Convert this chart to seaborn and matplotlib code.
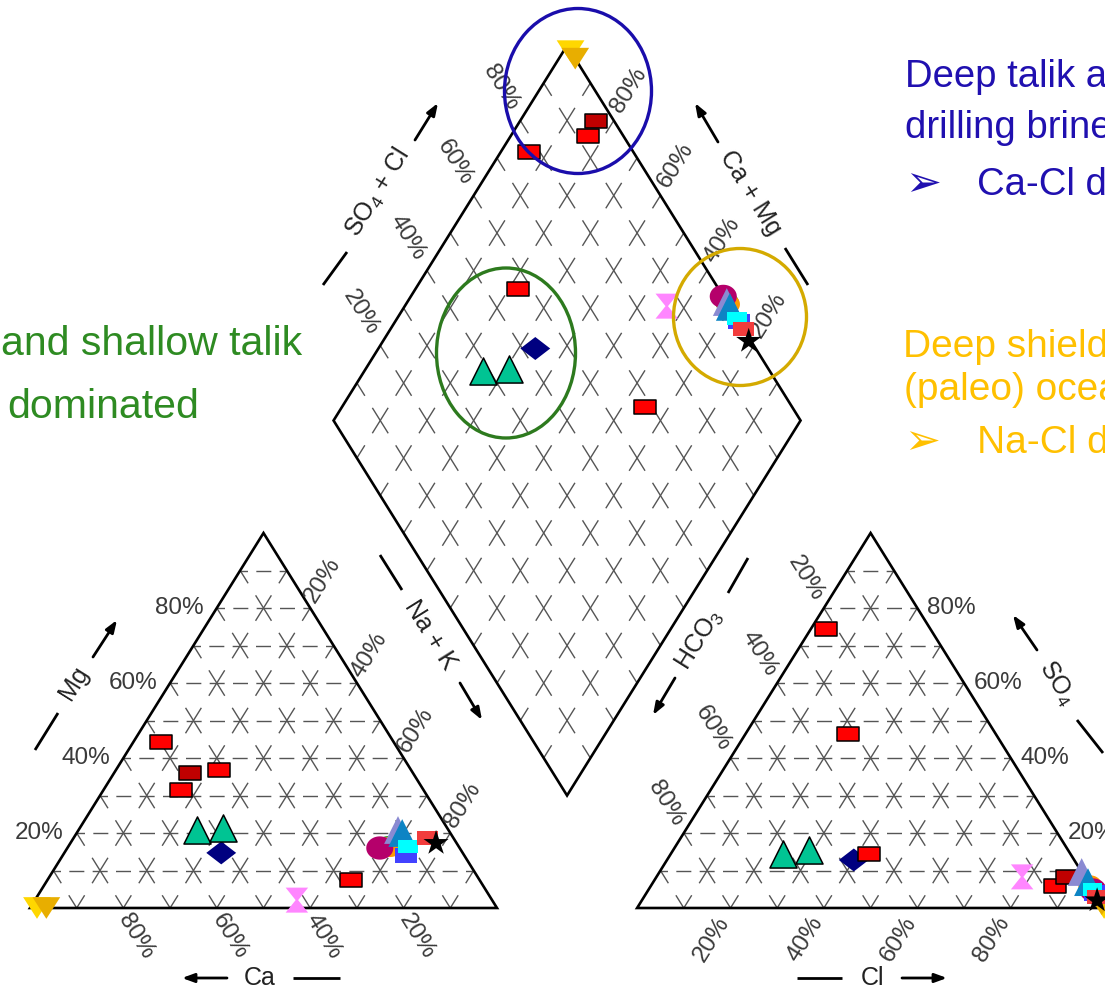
import numpy as np
import pandas as pd
import matplotlib
matplotlib.use("Agg")
import matplotlib.pyplot as plt
from matplotlib.patches import Ellipse, Polygon
from matplotlib.path import Path
import seaborn as sns

sns.set_theme(style="white")
plt.rcParams["font.family"] = ["Liberation Sans", "DejaVu Sans"]
plt.rcParams["mathtext.fontset"] = "custom"
plt.rcParams["mathtext.rm"] = "Liberation Sans"
plt.rcParams["mathtext.it"] = "Liberation Sans:italic"
plt.rcParams["lines.scale_dashes"] = False

# ---------------------------------------------------------------------------
# Major-ion composition of each water sample (% of meq/L)
# ---------------------------------------------------------------------------
sample_id = ["S01", "S02", "S03", "S04", "S05", "S06", "S07", "S08", "S09", "S10",
             "S11", "S12", "S13", "S14", "S15", "S16", "S17", "S18", "S19", "S20"]
ca   = [98.5, 96.5, 41.8, 51.7, 53.8, 48.0, 49.7, 41.2, 51.9, 27.5,
        47.7, 10.8, 10.3, 15.0, 14.7, 17.1, 12.5, 10.8, 5.6, 4.4]
mg   = [0.0, 0.0, 2.1, 14.7, 20.8, 21.3, 44.3, 36.8, 31.5, 7.5,
        36.0, 20.8, 20.0, 16.5, 16.3, 16.0, 13.9, 16.5, 18.7, 17.3]
na_k = [1.5, 3.5, 56.1, 33.6, 25.4, 30.7, 6.0, 22.0, 16.6, 65.0,
        16.3, 68.4, 69.7, 68.5, 69.0, 66.9, 73.6, 72.7, 75.7, 78.3]
hco3 = [0.0, 0.0, 13.4, 47.2, 61.5, 55.5, 22.4, 43.0, 7.5, 31.5,
        3.8, 0.0, 0.0, 0.0, 0.0, 0.0, 0.0, 0.0, 0.0, 0.5]
so4  = [0.0, 1.0, 8.3, 12.8, 14.5, 15.5, 74.4, 14.5, 6.0, 46.5,
        8.3, 9.6, 6.9, 5.0, 6.0, 4.8, 4.0, 5.0, 3.0, 2.0]
cl   = [100.0, 99.0, 78.3, 40.0, 24.0, 29.0, 3.2, 42.5, 86.5, 22.0,
        87.9, 90.4, 93.1, 95.0, 94.0, 95.2, 96.0, 95.0, 97.0, 97.5]

tick_values = [20, 40, 60, 80]
tick_labels = [f"{v}%" for v in tick_values]

# ---------------------------------------------------------------------------
# Marker shapes
# ---------------------------------------------------------------------------
def closed(verts):
    verts = list(verts) + [verts[0]]
    return Path(verts, closed=True)

RECT = closed([(-1, -0.68), (1, -0.68), (1, 0.68), (-1, 0.68)])
DOWN = closed([(-1, 0.78), (1, 0.78), (0, -0.78)])
DIAM = closed([(0, 0.77), (1, 0), (0, -0.77), (-1, 0)])
HOUR = closed([(-0.9, 1), (0.9, 1), (0.1, 0), (0.9, -1), (-0.9, -1), (-0.1, 0)])
_t = np.linspace(0, 2 * np.pi, 49)[:-1]
OVAL = closed(list(zip(np.cos(_t), 0.86 * np.sin(_t))))

# marker, face colour, edge colour, size (pt across)
style = {
    "S01": (DOWN, "#FFD700", "none", 20),
    "S02": (DOWN, "#E8AE00", "none", 20),
    "S03": (HOUR, "#FF86FF", "none", 18),
    "S04": (DIAM, "#000080", "none", 21.5),
    "S05": ("^", "#00C493", "black", 19.5),
    "S06": ("^", "#00C493", "black", 19.5),
    "S07": (RECT, "#FF0000", "black", 15.8),
    "S08": (RECT, "#FF0000", "black", 15.8),
    "S09": (RECT, "#FF0000", "black", 15.8),
    "S10": (RECT, "#FF0000", "black", 15.8),
    "S11": (RECT, "#C00000", "black", 15.8),
    "S14": (OVAL, "#2CA02C", "none", 17),
    "S15": (OVAL, "#FF9A00", "none", 17),
    "S16": (OVAL, "#B5006B", "none", 19.5),
    "S12": ("^", "#8A8AD2", "none", 20),
    "S13": ("^", "#0D84C4", "none", 20),
    "S17": (RECT, "#4242FF", "none", 16),
    "S18": (RECT, "#00FFFF", "none", 14),
    "S19": (RECT, "#F23C3C", "none", 15),
    "S20": ("*", "black", "none", 19),
}
draw_order = ["S01", "S02", "S03", "S04", "S05", "S06", "S07", "S08", "S09", "S10",
              "S11", "S14", "S15", "S16", "S12", "S13", "S17", "S18", "S19", "S20"]

# ---------------------------------------------------------------------------
# Piper geometry (unit-side triangles)
# ---------------------------------------------------------------------------
H = np.sqrt(3) / 2
GAP = 0.3
B = np.array([1 + GAP / 2, GAP * H])          # lower vertex of the diamond
E1 = np.array([-0.5, H])                       # Ca+Mg direction
E2 = np.array([0.5, H])                        # SO4+Cl direction
OX_AN = 1 + GAP                                # left corner of the anion triangle

df = pd.DataFrame(dict(sample=sample_id, ca=ca, mg=mg, na_k=na_k,
                       hco3=hco3, so4=so4, cl=cl))
for col in ["ca", "mg", "na_k"]:
    df[col + "_f"] = df[col] / (df["ca"] + df["mg"] + df["na_k"])
for col in ["hco3", "so4", "cl"]:
    df[col + "_f"] = df[col] / (df["hco3"] + df["so4"] + df["cl"])

cat = pd.DataFrame(dict(sample=df["sample"],
                        x=df["na_k_f"] + 0.5 * df["mg_f"], y=H * df["mg_f"]))
an = pd.DataFrame(dict(sample=df["sample"],
                       x=OX_AN + df["cl_f"] + 0.5 * df["so4_f"], y=H * df["so4_f"]))
cc = df["ca_f"] + df["mg_f"]
ss = df["so4_f"] + df["cl_f"]
dia = pd.DataFrame(dict(sample=df["sample"],
                        x=B[0] + 0.5 * (ss - cc), y=B[1] + H * (ss + cc)))
points = pd.concat([cat.assign(panel="cation"), an.assign(panel="anion"),
                    dia.assign(panel="diamond")], ignore_index=True)

# ---------------------------------------------------------------------------
# Canvas: one axes spanning the sheet, 467 px per unit across, 433 px up
# ---------------------------------------------------------------------------
SX, SY, X0, Y0 = 467.0, 433.0, 30.0, 908.0
W, HT = 1105, 990


def P(px, py):
    return ((px - X0) / SX, (Y0 - py) / SY)


fig = plt.figure(figsize=(W / 100, HT / 100), dpi=100)
ax = fig.add_axes([0, 0, 1, 1])
ax.set_xlim(P(0, 0)[0], P(W, 0)[0])
ax.set_ylim(P(0, HT)[1], P(0, 0)[1])
ax.axis("off")

GRID_C = "#555555"
GRID_LW = 1.0
H_LS = (5.4, (10.8, 6.0))
D_LS = (10.8, (21.6, 10.2))


def seg(p, q, ls):
    ax.plot([p[0], q[0]], [p[1], q[1]], color=GRID_C, lw=GRID_LW, ls=ls,
            zorder=1, solid_capstyle="butt", dash_capstyle="butt")


def tri_grid(ox):
    for k in range(1, 10):
        f = k / 10
        seg((ox + f / 2, f * H), (ox + 1 - f / 2, f * H), H_LS)
        seg((ox + f, 0), (ox + f + (1 - f) / 2, (1 - f) * H), D_LS)
        seg((ox + f, 0), (ox + f / 2, f * H), D_LS)


tri_grid(0.0)
tri_grid(OX_AN)
for k in range(1, 10):
    f = k / 10
    seg(B + f * E1, B + f * E1 + E2, D_LS)
    seg(B + f * E2, B + f * E2 + E1, D_LS)

outline = dict(closed=True, fill=False, ec="black", lw=1.9, zorder=2, joinstyle="miter")
ax.add_patch(Polygon([(0, 0), (1, 0), (0.5, H)], **outline))
ax.add_patch(Polygon([(OX_AN, 0), (OX_AN + 1, 0), (OX_AN + 0.5, H)], **outline))
ax.add_patch(Polygon([B, B + E1, B + E1 + E2, B + E2], **outline))

# ---------------------------------------------------------------------------
# Percent labels along the edges
# ---------------------------------------------------------------------------
TICK_C = "#3a3a3a"
TICK_FS = 17.5
PX = 1 / 1.389          # pixels -> points


def tick(pt, text, dx, dy, rot, ha="center"):
    ax.annotate(text, xy=pt, xytext=(dx * PX, -dy * PX), textcoords="offset points",
                ha=ha, va="center", rotation=rot, rotation_mode="anchor",
                fontsize=TICK_FS, color=TICK_C, zorder=3)


ROT = 58
for v, lab in zip(tick_values, tick_labels):
    f = v / 100
    tick((f / 2, f * H), lab, -13, 0, 0, ha="right")                         # Mg
    tick((f + (1 - f) / 2, (1 - f) * H), lab, 12, -28, ROT)                  # Na+K
    tick((1 - f, 0), lab, 13, 28, -ROT)                                      # Ca
    tick((OX_AN + 0.5 * (1 - f), (1 - f) * H), lab, -18, -30, -ROT)          # HCO3
    tick((OX_AN + 1 - f / 2, f * H), lab, 10, 0, 0, ha="left")               # SO4
    tick((OX_AN + f, 0), lab, -19, 31, ROT)                                  # Cl
    tick(B + E1 + f * E2, lab, -19, -33, -ROT)                               # SO4+Cl
    tick(B + E2 + f * E1, lab, 15, -30, ROT)                                 # Ca+Mg

# ---------------------------------------------------------------------------
# Axis names with direction arrows
# ---------------------------------------------------------------------------
AX_FS = 18


def bar(p, q):
    a, b = P(*p), P(*q)
    ax.plot([a[0], b[0]], [a[1], b[1]], color="black", lw=2.0,
            solid_capstyle="butt", zorder=3)


def arrow(p, q):
    ax.annotate("", xy=P(*q), xytext=P(*p),
                arrowprops=dict(arrowstyle="-|>,head_length=0.6,head_width=0.22",
                                color="black", lw=2.0, shrinkA=0, shrinkB=0),
                zorder=3)


def name(p, text, rot, va="center"):
    ax.text(*P(*p), text, ha="center", va=va, rotation=rot,
            rotation_mode="anchor", fontsize=AX_FS, color="#222222", zorder=3)


bar((35, 750), (58, 713)); name((74, 683), "Mg", ROT); arrow((93, 657), (117, 620))
arrow((227, 978), (182, 978)); name((260, 985), "Ca", 0, "baseline"); bar((293, 978), (340, 978))
bar((380, 555), (402, 590)); name((430, 635), "Na + K", -ROT); arrow((460, 683), (482, 720))
bar((748, 558), (728, 593)); name((700, 640), "HCO$_3$", ROT); arrow((675, 678), (653, 715))
arrow((1037, 650), (1013, 615)); name((1057, 683), "SO$_4$", -ROT); bar((1077, 720), (1103, 753))
bar((797, 978), (842, 978)); name((872, 985), "Cl", 0, "baseline"); arrow((902, 978), (947, 978))
bar((323, 285), (347, 252)); name((378, 193), "SO$_4$ + Cl", ROT); arrow((415, 140), (438, 103))
arrow((718, 142), (695, 103)); name((750, 193), "Ca + Mg", -ROT); bar((785, 248), (808, 285))

# ---------------------------------------------------------------------------
# Samples
# ---------------------------------------------------------------------------
for z, sid in enumerate(draw_order):
    marker, face, edge, size = style[sid]
    sub = points[points["sample"] == sid]
    sns.scatterplot(data=sub, x="x", y="y", marker=marker, s=size ** 2,
                    color=face, edgecolor=edge, linewidth=1.1 if edge != "none" else 0,
                    legend=False, ax=ax, zorder=5 + z * 0.01, clip_on=True)

# ---------------------------------------------------------------------------
# Water-type groups
# ---------------------------------------------------------------------------
BLUE, GREEN, GOLD = "#2010B0", "#2E8B22", "#FFC000"


def ring(cx, cy, w, h, color):
    ax.add_patch(Ellipse(P(cx, cy), w / SX, h / SY, fill=False, ec=color,
                         lw=2.4, zorder=8))


ring(578, 91, 147, 165, "#1A0DAB")
ring(506, 353, 139, 170, "#2D7A1E")
ring(740, 317, 133, 137, "#D4AA00")


def note(px, py, text, color, fs):
    ax.text(*P(px, py), text, ha="left", va="baseline", fontsize=fs,
            color=color, zorder=9)


note(1, 355, "and shallow talik", GREEN, 29.5)
note(7, 418, "dominated", GREEN, 29.5)

note(905, 87, "Deep talik and", BLUE, 27.5)
note(905, 138, "drilling brines", BLUE, 27.5)
note(905, 196, "\u27a2", BLUE, 31)
note(977, 195, "Ca-Cl dominated", BLUE, 27.5)

note(903, 357, "Deep shield", GOLD, 28)
note(904, 400, "(paleo) ocean", GOLD, 28)
note(904, 454, "\u27a2", GOLD, 31)
note(977, 453, "Na-Cl dominated", GOLD, 28)

fig.savefig("out.png", dpi=100)
